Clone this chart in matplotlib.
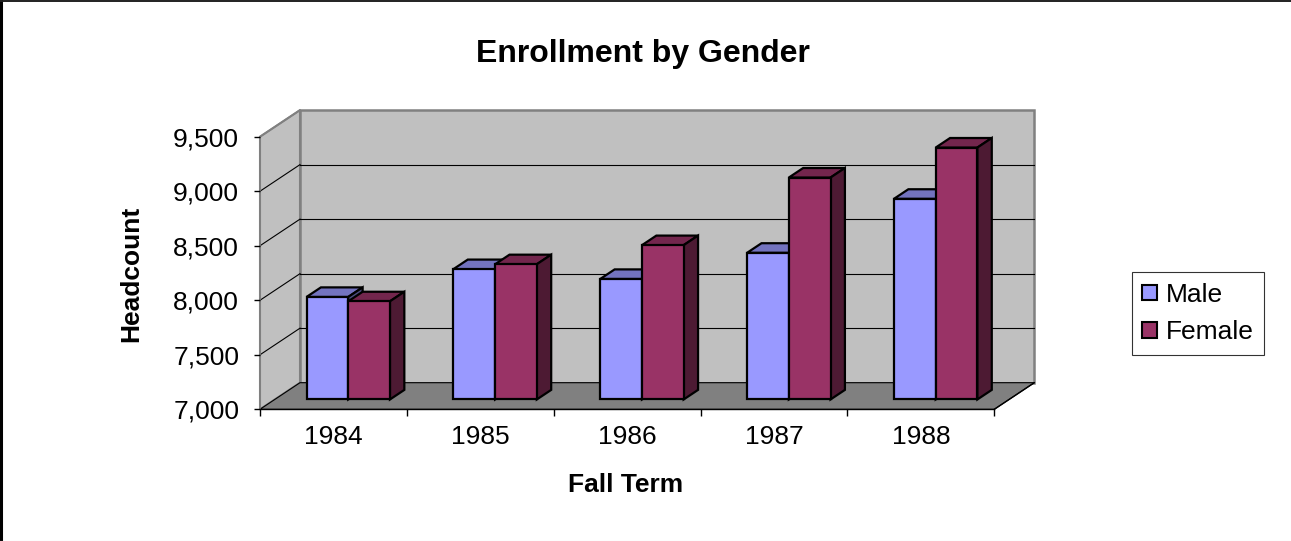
import matplotlib
matplotlib.use("Agg")
import matplotlib.pyplot as plt
from matplotlib.patches import Polygon, Patch
from matplotlib.lines import Line2D

plt.rcParams['font.family'] = ['Liberation Sans', 'DejaVu Sans']

# --- data ---
years = ['1984', '1985', '1986', '1987', '1988']
male = [7940, 8195, 8105, 8345, 8840]
female = [7900, 8240, 8415, 9035, 9310]
y_ticks = [7000, 7500, 8000, 8500, 9000, 9500]
y_labels = ['7,000', '7,500', '8,000', '8,500', '9,000', '9,500']

# --- colours (Excel 97 style) ---
male_cols = ('#9999FF', '#7373BF', '#4D4D80')     # front, top, side
female_cols = ('#993366', '#73264D', '#4D1A33')
wall = '#C0C0C0'
floor = '#808080'

W, H = 1291, 541
fig = plt.figure(figsize=(W / 100, H / 100), dpi=100)

# front plane of the 3d box, in pixels
x0px, x1px = 260.0, 994.3
ybot, ytop = 409.3, 136.7
ax = fig.add_axes([x0px / W, (H - ybot) / H, (x1px - x0px) / W, (ybot - ytop) / H])
ymin, ymax = 7000, 9500
ax.set_xlim(0, len(years))
ax.set_ylim(ymin, ymax)

# oblique depth vector in data units
DX = 40.0 / ((x1px - x0px) / len(years))
DY = 26.6 / ((ybot - ytop) / (ymax - ymin))
n = len(years)


def poly(pts, fc, ec='black', lw=1.6, z=2):
    ax.add_patch(Polygon(pts, closed=True, facecolor=fc, edgecolor=ec,
                         linewidth=lw, clip_on=False, zorder=z, joinstyle='miter'))


# walls and floor
poly([(0, ymin), (DX, ymin + DY), (DX, ymax + DY), (0, ymax)], wall, ec='#808080', lw=1.5, z=0)
poly([(DX, ymin + DY), (n + DX, ymin + DY), (n + DX, ymax + DY), (DX, ymax + DY)], wall, ec='#808080', lw=1.8, z=0)
poly([(0, ymin), (n, ymin), (n + DX, ymin + DY), (DX, ymin + DY)], floor, ec='black', lw=0.8, z=0.5)

# gridlines on the back and side wall
for v in y_ticks[1:-1]:
    ax.plot([DX, n + DX], [v + DY, v + DY], color='black', lw=0.8, zorder=0.6, clip_on=False)
    ax.plot([0, DX], [v, v + DY], color='black', lw=0.8, zorder=0.6, clip_on=False)
ax.plot([0, DX], [ymax, ymax + DY], color='#808080', lw=1.2, zorder=0.6, clip_on=False)
ax.plot([0, 0], [ymin, ymax], color='#808080', lw=1.2, zorder=0.6, clip_on=False)

# bars
f1, f2 = 0.37, 0.73
bw = 0.284


def bar3d(xl, v, cols):
    xr = xl + bw
    front, top, side = cols
    poly([(xl + f1 * DX, v + f1 * DY), (xr + f1 * DX, v + f1 * DY),
          (xr + f2 * DX, v + f2 * DY), (xl + f2 * DX, v + f2 * DY)], top, z=3)
    poly([(xr + f1 * DX, ymin + f1 * DY), (xr + f2 * DX, ymin + f2 * DY),
          (xr + f2 * DX, v + f2 * DY), (xr + f1 * DX, v + f1 * DY)], side, z=3)
    poly([(xl + f1 * DX, ymin + f1 * DY), (xr + f1 * DX, ymin + f1 * DY),
          (xr + f1 * DX, v + f1 * DY), (xl + f1 * DX, v + f1 * DY)], front, z=3)


for i in range(n):
    bar3d(i + 0.5 - bw, male[i], male_cols)
    bar3d(i + 0.5, female[i], female_cols)

# axes: ticks and labels through matplotlib
for s in ax.spines.values():
    s.set_visible(False)
ax.patch.set_visible(False)
ax.set_yticks(y_ticks)
ax.set_yticklabels(y_labels, fontsize=19)
ax.tick_params(axis='y', length=4, width=1, pad=11, color='black')
ax.set_xticks(range(n + 1))
ax.set_xticklabels([])
ax.set_xticks([i + 0.5 for i in range(n)], minor=True)
ax.set_xticklabels(years, minor=True, fontsize=19)
ax.tick_params(axis='x', which='major', length=5, width=1, color='black')
ax.tick_params(axis='x', which='minor', length=0, pad=11)
ax.plot([0, n], [ymin, ymin], color='black', lw=1.0, zorder=0.7, clip_on=False)
ax.plot([n, n + DX], [ymin, ymin + DY], color='black', lw=1.0, zorder=0.7, clip_on=False)

fig.text(643 / W, 1 - 54 / H, 'Enrollment by Gender', fontsize=23, fontweight='bold',
         ha='center', va='center')
fig.text(131 / W, 1 - 273.5 / H, 'Headcount', fontsize=19, fontweight='bold',
         rotation=90, ha='center', va='center')
fig.text(626 / W, 1 - 485 / H, 'Fall Term', fontsize=19, fontweight='bold',
         ha='center', va='center')

handles = [Patch(facecolor=male_cols[0], edgecolor='black', linewidth=1.5, label='Male'),
           Patch(facecolor=female_cols[0], edgecolor='black', linewidth=1.5, label='Female')]
leg = fig.legend(handles=handles, loc='upper left', bbox_to_anchor=(1131.7 / W, 1 - 272.3 / H),
                 fontsize=19, frameon=True, fancybox=False, shadow=False,
                 handlelength=0.55, handleheight=0.55, handletextpad=0.35,
                 borderpad=0.4, labelspacing=0.5, borderaxespad=0)
leg.get_frame().set_edgecolor('black')
leg.get_frame().set_linewidth(0.8)

# chart border
fig.add_artist(Line2D([1.5 / W, 1.5 / W], [0, 1], transform=fig.transFigure, color='black', lw=2.2))
fig.add_artist(Line2D([0, 1], [1 - 1 / H, 1 - 1 / H], transform=fig.transFigure, color='#202020', lw=1.4))
fig.add_artist(Line2D([0, 1], [0.5 / H, 0.5 / H], transform=fig.transFigure, color='#E0E0E0', lw=0.8))

fig.savefig('out.png', dpi=100)
